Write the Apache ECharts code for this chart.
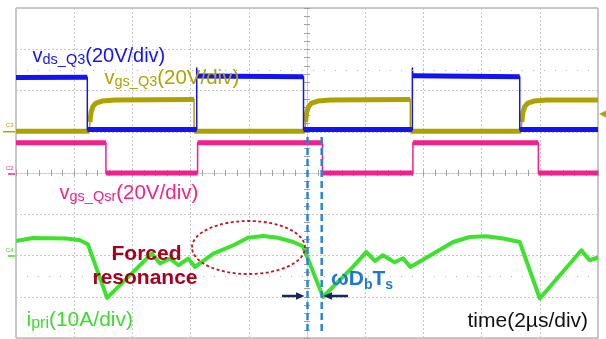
<!DOCTYPE html>
<html><head><meta charset="utf-8">
<script src="https://cdn.jsdelivr.net/npm/echarts@6/dist/echarts.min.js"></script>
<style>html,body{margin:0;padding:0;background:#fff}#c{width:606px;height:339px}</style>
</head><body><div id="c"></div>
<script>
// Time in microseconds (2 µs/div), screen centre = 0 µs
const timeMin = -10, timeMax = 10, timeDiv = 2;
// vds_Q3 (V), 20 V/div
const vdsT = [-10, -7.55, -7.55, -3.79, -3.79, -3.77, -0.12, -0.12, 3.62, 3.62, 3.64, 7.31, 7.31, 10];
const vdsV = [25.2, 25.3, 0, 0, 29.8, 25.9, 25.6, 0, 0, 29.8, 26.0, 25.6, 0, 0];
// vgs_Q3 (V), 20 V/div
const vgsT = [-10, -7.48, -7.46, -7.42, -7.35, -7.25, -7.04, -6.60, -3.88, -3.88,
              -0.07, -0.05, -0.01, 0.06, 0.16, 0.37, 0.81, 3.55, 3.55,
              7.36, 7.38, 7.42, 7.49, 7.59, 7.80, 8.24, 10];
const vgsV = [0.3, 0.3, 4.7, 9.5, 12.4, 13.9, 14.9, 15.35, 15.6, 0.3,
              0.3, 4.7, 9.5, 12.4, 13.9, 14.9, 15.35, 15.6, 0.3,
              0.3, 4.7, 9.5, 12.4, 13.9, 14.9, 15.35, 15.4];
// vgs_Qsr (V), 20 V/div
const qsrT = [-10, -6.91, -6.91, -3.76, -3.76, 0.53, 0.53, 3.64, 3.64, 7.95, 7.95, 10];
const qsrV = [15.2, 15.2, 0.5, 0.5, 15.2, 15.2, 0.5, 0.5, 15.2, 15.2, 0.5, 0.5];
// ipri (A), 10 A/div
const ipriT = [-10, -9.42, -8.26, -7.80, -7.53, -6.87, -5.34, -5.05, -4.71, -4.42, -4.08, -3.85, -3.22, -2.53, -2.03, -1.51, -1.00, -0.47, -0.14,
               0.55, 1.01, 1.58, 2.04, 2.33, 2.61, 3.01, 3.30, 3.55, 4.44, 5.02, 5.59, 6.16, 6.74, 7.31, 8.00, 9.43, 9.71, 10];
const ipriV = [3.70, 4.43, 4.29, 3.87, 2.91, -10.10, 0.65, -1.77, -0.56, -2.18, -0.56, -2.59, 0.65, 2.66, 4.48, 4.89, 4.48, 3.46, 2.42,
               -9.85, -6.61, -2.59, 1.04, -1.14, 0.24, -1.45, -0.48, -2.59, 1.04, 3.46, 4.67, 4.84, 4.29, 3.46, -10.24, 1.45, -0.97, -0.31];

// channel settings (screen position of ground in divisions, units per division)
const CH = {
  vds: {off: 1.055, per: 20, color: '#1414F2'},
  vgs: {off: 1.00, per: 20, color: '#ADA200'},
  qsr: {off: -0.024, per: 20, color: '#F2208C'},
  ipri: {off: -2.018, per: 10, color: '#3EE22E'}
};

function screen(t, v, ch) { return t.map((x, i) => [x, ch.off + v[i] / ch.per]); }
function band(pts) {
  const out = [];
  pts.forEach((p, i) => {
    if (i > 0) {
      const q = pts[i - 1];
      if (Math.abs(p[0] - q[0]) < 0.03 && Math.abs(p[1] - q[1]) > 0.1) out.push([(p[0] + q[0]) / 2, '-']);
    }
    out.push(p);
  });
  return out;
}
function lineSeries(data, color, width, z) {
  return {type: 'line', data, symbol: 'none', showSymbol: false, connectNulls: false, animation: false,
    silent: true, z: z, lineStyle: {color, width, cap: 'butt', join: 'round'}};
}

const series = [];
[['qsr', qsrT, qsrV], ['vgs', vgsT, vgsV], ['vds', vdsT, vdsV]].forEach(([k, t, v], idx) => {
  const pts = screen(t, v, CH[k]);
  series.push(lineSeries(pts, CH[k].color, 1.5, 2 + idx));
  series.push(lineSeries(band(pts), CH[k].color, 5, 2 + idx));
});
const ipriSeries = lineSeries(screen(ipriT, ipriV, CH.ipri), CH.ipri.color, 4, 6);
ipriSeries.markLine = {silent: true, symbol: ['none', 'none'], animation: false, label: {show: false},
  lineStyle: {color: '#b4b4b4', type: [1, 10], width: 1}, data: [{yAxis: 2.5}, {yAxis: -2.5}]};
series.push(ipriSeries);

const gridLine = {color: '#c6c6c6', type: [2, 2], width: 1};
const tickStyle = {color: '#a0a0a0', width: 1};
function xAx(pos, split) {
  return {type: 'value', min: timeMin, max: timeMax, interval: timeDiv, position: pos,
    axisLabel: {show: false}, splitLine: {show: split, lineStyle: gridLine},
    axisLine: {show: true, onZero: true, lineStyle: gridLine},
    axisTick: {show: true, length: 3, lineStyle: tickStyle},
    minorTick: {show: true, splitNumber: 5, length: 3, lineStyle: tickStyle}};
}
function yAx(pos, split) {
  return {type: 'value', min: -4, max: 4, interval: 1, position: pos,
    axisLabel: {show: false}, splitLine: {show: split, lineStyle: gridLine},
    axisLine: {show: true, onZero: true, lineStyle: gridLine},
    axisTick: {show: true, length: 3, lineStyle: tickStyle},
    minorTick: {show: true, splitNumber: 5, length: 3, lineStyle: tickStyle}};
}

// text helpers
const mctx = document.createElement('canvas').getContext('2d');
const FAM = '"Liberation Sans", Arial, sans-serif';
function seq(x0, pieces) {
  let x = x0; const els = [];
  pieces.forEach(p => {
    const font = (p.b ? 'bold ' : '') + p.fs + 'px ' + FAM;
    els.push({type: 'text', z: 100, x: x, y: p.base - 0.3465 * p.fs,
      style: {text: p.t, font, fill: p.c, textAlign: 'left', textVerticalAlign: 'middle', align: 'left', verticalAlign: 'middle'}});
    mctx.font = font; x += mctx.measureText(p.t).width;
  });
  return els;
}
function centered(cx, base, text, fs, bold, color) {
  const font = (bold ? 'bold ' : '') + fs + 'px ' + FAM;
  return {type: 'text', z: 100, x: cx, y: base - 0.3465 * fs,
    style: {text, font, fill: color, textAlign: 'center', textVerticalAlign: 'middle', align: 'center', verticalAlign: 'middle'}};
}

const cB = CH.vds.color, cO = '#AFA300', cP = '#F0228C', cG = '#3CDC2C';
const graphics = [].concat(
  seq(32.5, [{t: 'v', fs: 20, base: 63.5, c: cB}, {t: 'ds_Q3', fs: 14.5, base: 65.5, c: cB}, {t: '(20V/div)', fs: 20, base: 63.5, c: cB}]),
  seq(104.5, [{t: 'v', fs: 20, base: 85, c: cO}, {t: 'gs_Q3', fs: 14.5, base: 87, c: cO}, {t: '(20V/div)', fs: 20.5, base: 85, c: cO}]),
  seq(59.5, [{t: 'v', fs: 20, base: 200, c: cP}, {t: 'gs_Qsr', fs: 14.5, base: 202, c: cP}, {t: '(20V/div)', fs: 20.5, base: 200, c: cP}]),
  seq(26.5, [{t: 'i', fs: 21, base: 327, c: cG}, {t: 'pri', fs: 16, base: 329.5, c: cG}, {t: '(10A/div)', fs: 21, base: 327, c: cG}]),
  seq(467.5, [{t: 'time(2µs/div)', fs: 21, base: 328.5, c: '#111111'}]),
  seq(331, [{t: 'ω', fs: 21, b: true, base: 286.7, c: '#1F78CF'}, {t: 'D', fs: 21, b: true, base: 286.7, c: '#1F78CF'},
            {t: 'b', fs: 14, b: true, base: 290, c: '#1F78CF'}, {t: 'T', fs: 21, b: true, base: 286.7, c: '#1F78CF'},
            {t: 's', fs: 14, b: true, base: 290, c: '#1F78CF'}]),
  [centered(146.5, 261.7, 'Forced', 21, true, '#A8001C'), centered(145, 285, 'resonance', 21, true, '#A8001C')],
  [
    {type: 'ellipse', z: 90, shape: {cx: 248.5, cy: 247.5, rx: 56.5, ry: 26.5},
      style: {fill: 'none', stroke: '#C0141E', lineWidth: 1.8, lineDash: [3, 2.5]}},
    {type: 'line', z: 90, shape: {x1: 307.5, y1: 137, x2: 307.5, y2: 334}, style: {stroke: '#2B85D6', lineWidth: 2.5, lineDash: [7, 4]}},
    {type: 'line', z: 90, shape: {x1: 321.7, y1: 137, x2: 321.7, y2: 334}, style: {stroke: '#2B85D6', lineWidth: 2.5, lineDash: [7, 4]}},
    {type: 'line', z: 95, shape: {x1: 282, y1: 296, x2: 298, y2: 296}, style: {stroke: '#13275A', lineWidth: 2.5}},
    {type: 'polygon', z: 95, shape: {points: [[304.5, 296], [296, 292.3], [296, 299.7]]}, style: {fill: '#13275A'}},
    {type: 'line', z: 95, shape: {x1: 330, y1: 296, x2: 348, y2: 296}, style: {stroke: '#13275A', lineWidth: 2.5}},
    {type: 'polygon', z: 95, shape: {points: [[323.3, 296], [332, 292.3], [332, 299.7]]}, style: {fill: '#13275A'}},
    // channel markers
    {type: 'line', z: 95, shape: {x1: 3, y1: 131.7, x2: 15, y2: 131.7}, style: {stroke: cO, lineWidth: 1.5}},
    {type: 'text', z: 95, x: 6, y: 125.5, style: {text: 'C3', font: '6px ' + FAM, fill: cO, textVerticalAlign: 'middle', verticalAlign: 'middle'}},
    {type: 'line', z: 95, shape: {x1: 8, y1: 174, x2: 15, y2: 174}, style: {stroke: cP, lineWidth: 1.5}},
    {type: 'text', z: 95, x: 6, y: 168.5, style: {text: 'C2', font: '6px ' + FAM, fill: cP, textVerticalAlign: 'middle', verticalAlign: 'middle'}},
    {type: 'line', z: 95, shape: {x1: 8, y1: 256, x2: 15, y2: 256}, style: {stroke: cG, lineWidth: 1.5}},
    {type: 'text', z: 95, x: 6, y: 250.5, style: {text: 'C4', font: '6px ' + FAM, fill: cG, textVerticalAlign: 'middle', verticalAlign: 'middle'}},
    {type: 'polygon', z: 95, shape: {points: [[599, 114], [606, 110.5], [606, 117.5]]}, style: {fill: cO}}
  ]
);

const chart = echarts.init(document.getElementById('c'), null, {renderer: 'canvas'});
chart.setOption({
  animation: false,
  backgroundColor: '#ffffff',
  grid: {left: 16, right: 8, top: 8, bottom: 1, show: true, borderColor: '#8e8e8e', borderWidth: 1, backgroundColor: 'transparent'},
  xAxis: [xAx('bottom', true), xAx('top', false)],
  yAxis: [yAx('left', true), yAx('right', false)],
  series: series,
  graphic: {elements: graphics}
});
</script></body></html>
